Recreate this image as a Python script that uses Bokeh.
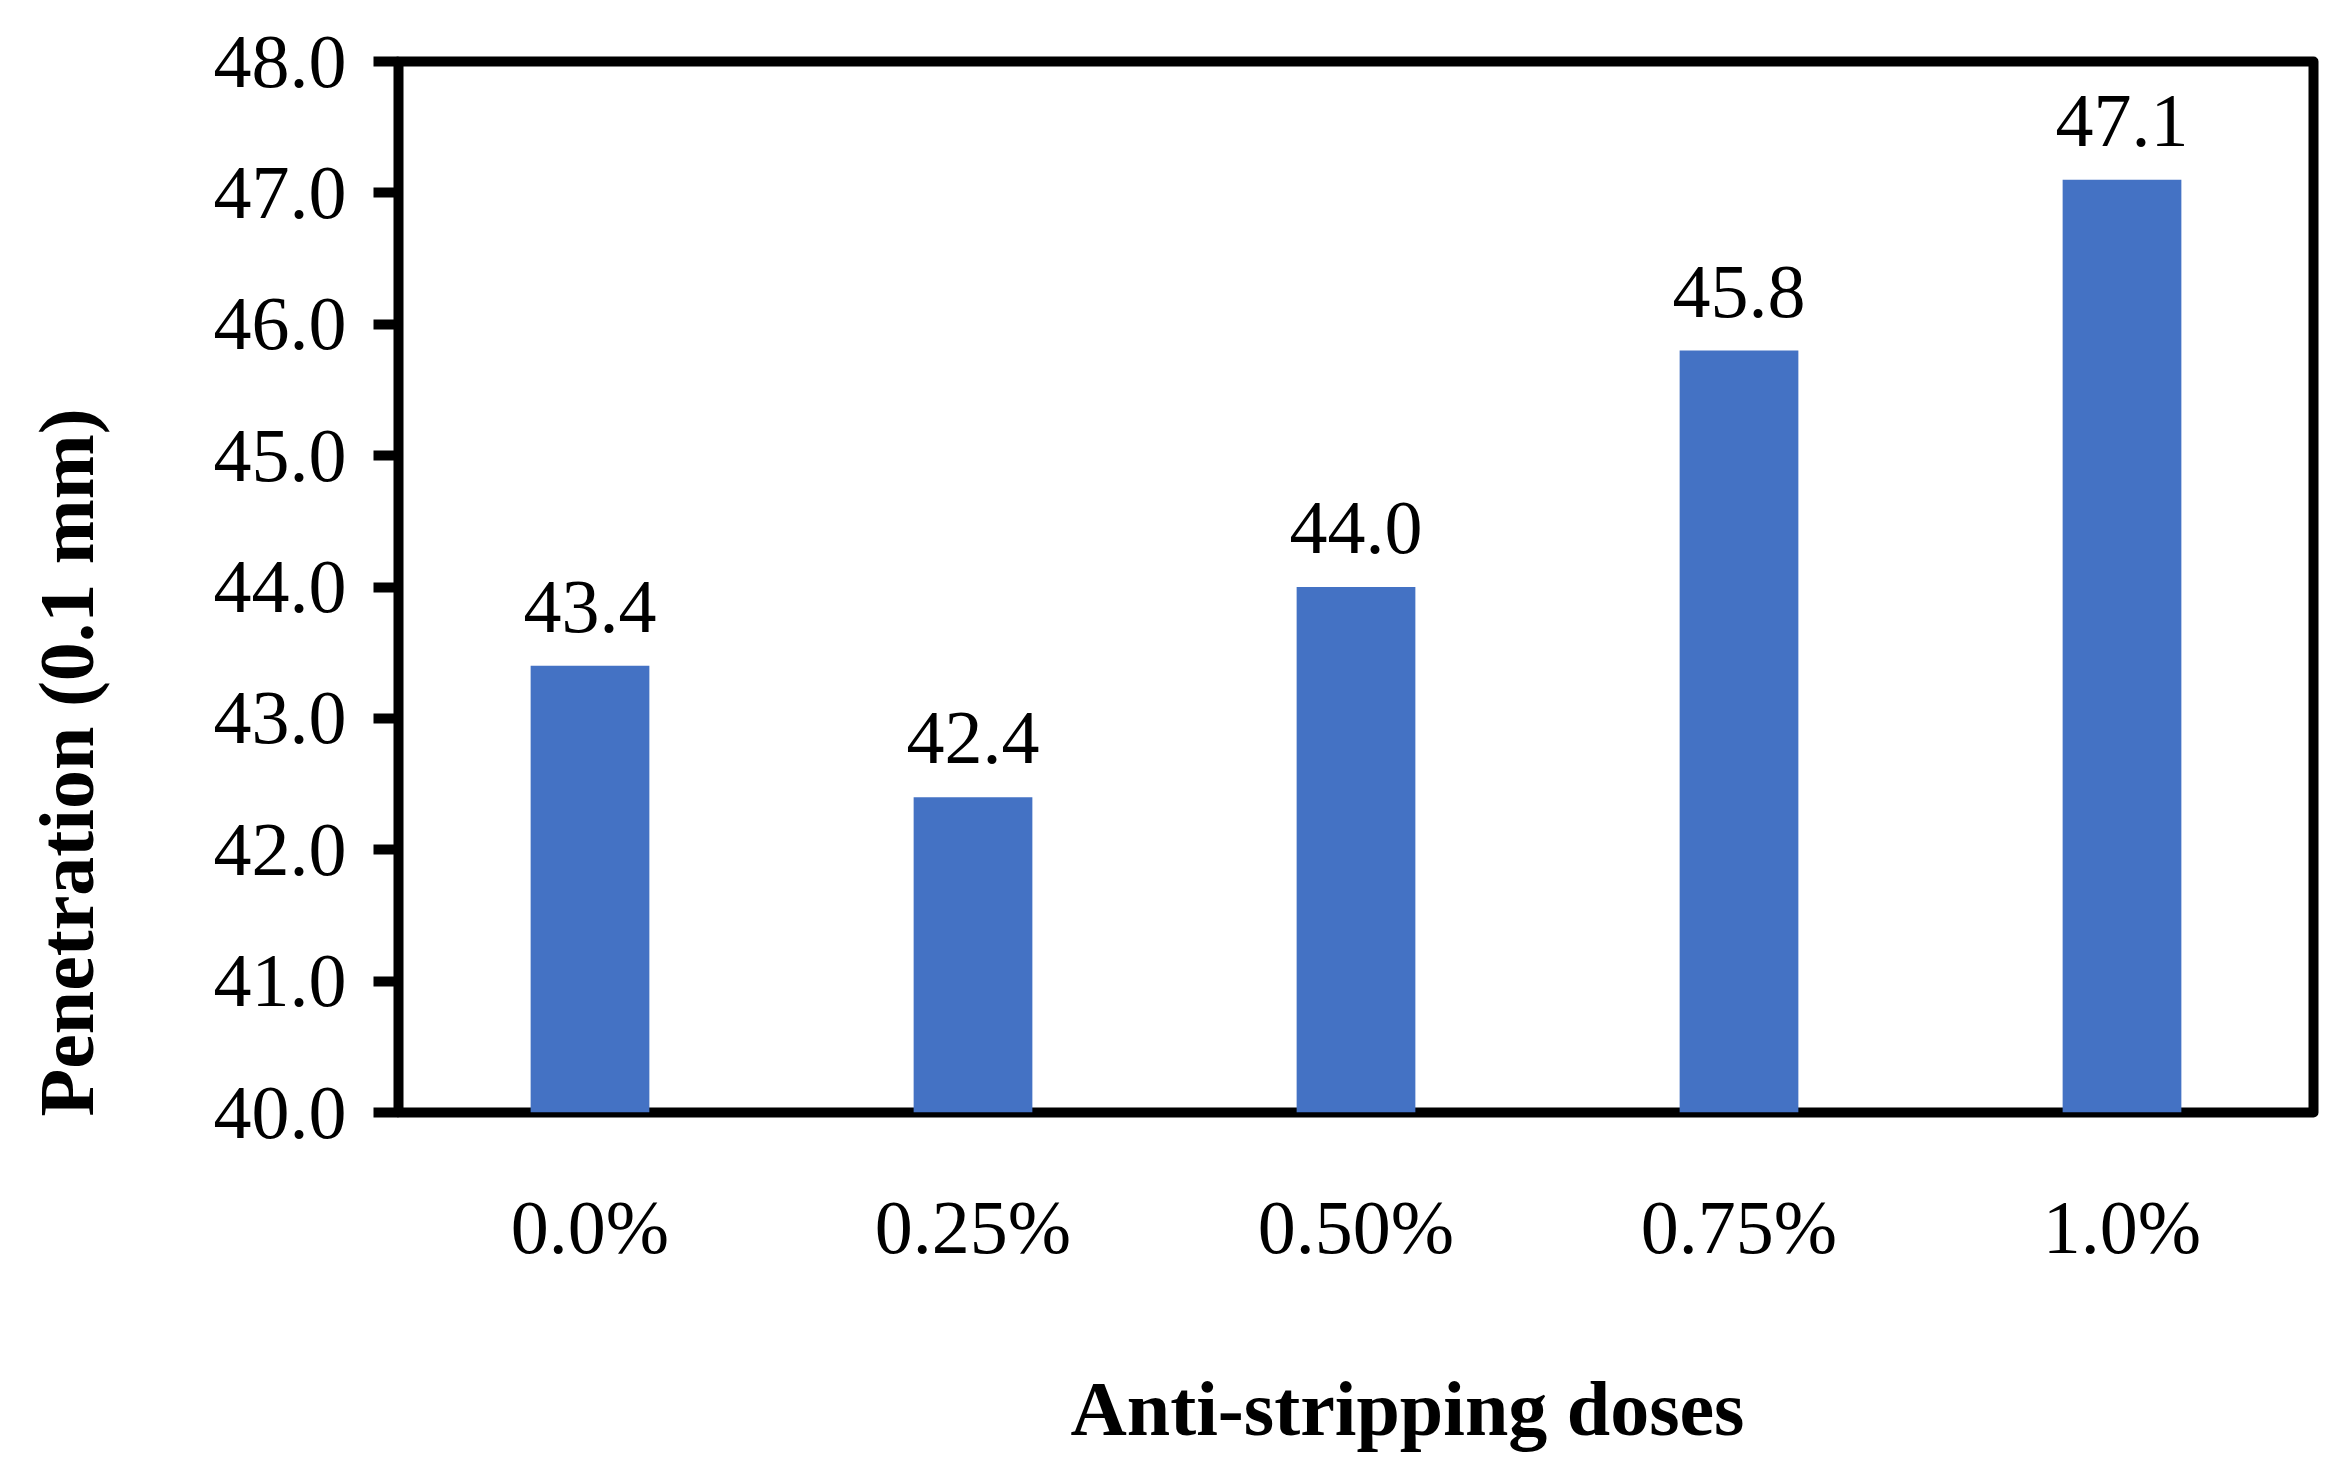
import math
from bokeh.plotting import figure
from bokeh.models import (ColumnDataSource, FactorRange, Range1d, LabelSet, Title,
                          NumeralTickFormatter, FixedTicker)
from bokeh.embed import file_html
from bokeh.resources import INLINE

# ---- data ----
categories = ["0.0%", "0.25%", "0.50%", "0.75%", "1.0%"]
penetration = [43.4, 42.4, 44.0, 45.8, 47.1]
value_labels = ["{:.1f}".format(v) for v in penetration]
y_ticks = [40, 41, 42, 43, 44, 45, 46, 47, 48]
x_title = "Anti-stripping doses"
y_title = "Penetration (0.1 mm)"

FONT = "Liberation Serif"
FS = "76px"
TFS = "78px"

source = ColumnDataSource(dict(cat=categories, val=penetration, txt=value_labels))

p = figure(width=2328, height=1464, x_range=FactorRange(*categories, range_padding=0),
           y_range=Range1d(40, 48), output_backend="svg", toolbar_location=None,
           min_border_left=398, min_border_right=15, min_border_top=61,
           min_border_bottom=352)

p.vbar(x="cat", top="val", bottom=40, width=0.31, source=source,
       fill_color="#4472C4", line_color=None)

# frame
p.outline_line_color = "black"
p.outline_line_width = 10
p.outline_line_join = "round"
p.xgrid.grid_line_color = None
p.ygrid.grid_line_color = None
p.background_fill_color = "white"
p.border_fill_color = "white"

# y axis
ya = p.yaxis[0]
ya.ticker = FixedTicker(ticks=y_ticks)
ya.formatter = NumeralTickFormatter(format="0.0")
ya.axis_line_color = None
ya.major_tick_line_color = "black"
ya.major_tick_line_width = 10
ya.major_tick_out = 25
ya.major_tick_in = 0
ya.minor_tick_line_color = None
ya.major_label_text_font = FONT
ya.major_label_text_font_size = FS
ya.major_label_text_color = "black"
ya.major_label_standoff = 27

# x axis
xa = p.xaxis[0]
xa.axis_line_color = None
xa.major_tick_line_color = None
xa.minor_tick_line_color = None
xa.major_label_text_font = FONT
xa.major_label_text_font_size = FS
xa.major_label_text_color = "black"
xa.major_label_standoff = 66

# value labels
labels = LabelSet(x="cat", y="val", text="txt", source=source, text_align="center",
                  text_baseline="alphabetic", y_offset=34, text_font=FONT,
                  text_font_size=FS, text_color="black")
p.add_layout(labels)

# spacing panels between the axes and their titles
p.add_layout(Title(text=" ", text_font_size="2px", standoff=87), "below")
p.add_layout(Title(text=" ", text_font_size="2px", standoff=97), "left")

# axis titles
p.add_layout(Title(text=x_title, align="left", offset=672, standoff=0,
                   vertical_align="bottom", text_font=FONT, text_font_size=TFS,
                   text_font_style="bold", text_color="black"), "below")
p.add_layout(Title(text=y_title, align="left", offset=-4, standoff=0,
                   vertical_align="bottom", text_font=FONT, text_font_size=TFS,
                   text_font_style="bold", text_color="black"), "left")

open("out.html", "w").write(file_html(p, INLINE))
